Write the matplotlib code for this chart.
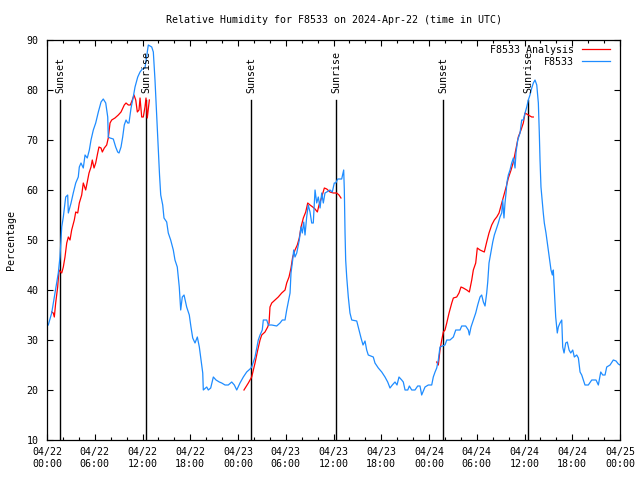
import numpy as np
import matplotlib
matplotlib.use('Agg')
import matplotlib.pyplot as plt


# hours after 2024-04-22 00:00 UTC, relative humidity in %
obs_hours = [0.16, 0.59, 1.01, 1.42, 1.63, 1.85, 2.05, 2.35, 2.60, 2.68, 3.02, 3.30, 3.61, 3.93, 4.06, 4.27,
             4.56, 4.78, 5.06, 5.32, 5.53, 5.82, 6.12, 6.45, 6.79, 7.07, 7.38, 7.63, 7.70, 7.92, 8.33, 8.63,
             8.88, 9.05, 9.30, 9.51, 9.71, 9.93, 10.14, 10.30, 10.56, 10.84, 11.06, 11.40, 11.69, 11.98, 12.31,
             12.73, 13.16, 13.36, 13.57, 13.78, 13.99, 14.14, 14.29, 14.54, 14.70, 15.04, 15.24, 15.54, 15.87,
             16.08, 16.37, 16.62, 16.80, 17.00, 17.22, 17.55, 17.88, 18.09, 18.31, 18.60, 18.89, 19.14, 19.35,
             19.57, 19.64, 20.07, 20.27, 20.57, 20.90, 21.24, 21.65, 21.95, 22.37, 22.78, 23.21, 23.54, 23.84,
             24.25, 24.67, 25.09, 25.51, 25.72, 26.14, 26.35, 26.55, 26.77, 27.05, 27.18, 27.61, 27.81, 28.24,
             28.86, 29.28, 29.57, 29.91, 30.12, 30.32, 30.54, 30.66, 30.87, 31.00, 31.16, 31.38, 31.58, 31.70,
             31.92, 32.08, 32.26, 32.42, 32.63, 32.83, 33.05, 33.26, 33.46, 33.68, 33.89, 34.09, 34.31, 34.52,
             34.72, 34.93, 35.15, 35.56, 35.85, 36.10, 36.28, 36.53, 37.03, 37.28, 37.36, 37.45, 37.53, 37.66,
             37.86, 38.07, 38.29, 38.92, 39.21, 39.46, 39.71, 39.96, 40.17, 40.37, 41.00, 41.21, 41.63, 42.06,
             42.47, 42.81, 43.10, 43.39, 43.73, 43.98, 44.23, 44.57, 44.77, 44.99, 45.33, 45.53, 45.83, 46.24,
             46.58, 46.87, 47.08, 47.50, 47.91, 48.34, 48.54, 48.76, 48.97, 49.17, 49.38, 49.67, 50.01, 50.23,
             50.64, 51.06, 51.36, 51.90, 52.11, 52.61, 52.94, 53.07, 53.28, 53.57, 53.87, 54.12, 54.41, 54.62,
             54.83, 55.04, 55.25, 55.38, 55.54, 55.79, 56.01, 56.21, 56.42, 56.71, 56.92, 57.14, 57.26, 57.42,
             57.55, 57.68, 57.80, 57.97, 58.18, 58.39, 58.60, 58.81, 58.94, 59.15, 59.44, 59.65, 59.85, 60.07,
             60.28, 60.48, 60.69, 60.91, 61.11, 61.32, 61.54, 61.74, 61.86, 61.95, 62.07, 62.24, 62.36, 62.49,
             62.70, 62.87, 63.12, 63.33, 63.50, 63.62, 63.75, 63.92, 64.12, 64.25, 64.46, 64.68, 64.80, 64.97,
             65.18, 65.38, 65.60, 65.81, 66.06, 66.26, 66.56, 66.77, 66.98, 67.19, 67.60, 68.02, 68.45, 68.99,
             69.28, 69.58, 69.83, 70.12, 70.33, 70.75, 71.16, 71.50, 71.79, 72.00]
obs_rh = [33, 35.4, 39.4, 43.4, 46.6, 52.6, 54.6, 58.6, 59, 55.4, 57.4, 59.4, 61.4, 62.6, 64.6, 65.4,
          64.4, 67, 66.4, 68, 70, 72, 73.4, 75.6, 77.6, 78.2, 77.4, 74.6, 70.6, 70.4, 70.2, 68.6,
          67.6, 67.4, 68.6, 70.6, 73, 74, 73.4, 73.4, 76.4, 78.6, 80.6, 82.6, 83.6, 84.2, 84.4,
          89, 88.6, 87.6, 82, 75, 68, 63, 59, 57, 54.4, 53.6, 51.4, 50, 48,
          46, 44.6, 40.6, 36, 38.6, 39, 36.6, 35, 32.6, 30.4, 29.4, 30.6, 28.6, 26,
          23.4, 20, 20.6, 20, 20.4, 22.6, 22, 21.6, 21.4, 21, 21, 21.6, 21, 20,
          21.4, 22.6, 23.6, 24.2, 24.6, 26.6, 28.4, 30, 31, 32, 34, 34, 33, 33,
          32.8, 33.4, 34, 34, 36, 37.6, 39.4, 43.4, 46, 48, 46.6, 47.4, 49, 50,
          52.6, 51.4, 53.6, 51, 54.6, 57, 55.6, 53.4, 53.4, 60, 57.4, 58.6, 56.4, 59.4,
          57.4, 59.4, 59.6, 60, 59.6, 61.4, 61.4, 62.2, 62.2, 64, 60, 51.4, 46, 42.6,
          38.6, 35.4, 34, 33.8, 32, 30.4, 29, 29.8, 28, 27, 26.6, 25.4, 24.4, 23.6,
          22.6, 21.6, 20.4, 21, 21.6, 21, 22.6, 22, 21.6, 20, 20, 20.8, 20, 20,
          20.8, 20.8, 19, 20.6, 21, 21, 22.6, 23.6, 24.4, 26, 28.6, 28.8, 29, 30,
          30, 30.6, 32, 32, 32.8, 32.8, 32, 31, 32.6, 34, 35.4, 37, 38.6, 39,
          37.6, 36.8, 39.4, 41.6, 45.4, 47.6, 49.6, 51, 52, 53.4, 54.6, 55.4, 58, 54.4,
          57.4, 59.4, 61.6, 63, 64, 65.4, 66.4, 64.4, 67.6, 70, 71.4, 74, 74, 75.4,
          76.6, 78, 79, 80.4, 81.4, 82, 81, 77.4, 71.4, 66, 60.6, 57.4, 55.4, 53.4,
          51.4, 49.4, 46.6, 44, 43, 44, 40, 34.6, 31.4, 32.6, 33.4, 34, 28.6, 27.4,
          29.4, 29.6, 28, 27.4, 28, 26.6, 27, 26.4, 23.6, 23, 21, 21, 22, 22,
          21, 23.6, 23, 23, 24.6, 25, 26, 25.8, 25.2, 25]

# analysis runs, one per night
ana1_hours = [0.59, 0.79, 0.92, 1.09, 1.34, 1.51, 1.85, 2.05, 2.26, 2.48, 2.68, 2.89, 3.10, 3.43, 3.61, 3.86,
              4.06, 4.36, 4.56, 4.86, 5.06, 5.28, 5.53, 5.69, 5.91, 6.12, 6.37, 6.53, 6.79, 6.95, 7.20, 7.50,
              7.70, 7.92, 8.13, 8.54, 8.96, 9.30, 9.71, 9.93, 10.22, 10.47, 10.72, 10.93, 11.15, 11.35, 11.56,
              11.69, 11.90, 12.10, 12.31, 12.44, 12.60, 12.86]
ana1_rh = [35.6, 35.4, 34.6, 37.4, 40.6, 44, 43.4, 44.6, 46.6, 49.4, 50.6, 50, 52, 54, 55.6, 55.4,
           57.4, 59, 61.4, 60, 61.6, 63.4, 64.6, 66, 64.4, 65.4, 67.4, 68.6, 68.4, 67.6, 68.4, 69,
           70.4, 73.4, 74, 74.4, 75, 75.6, 77, 77.4, 77, 77, 78, 79, 78, 75.6, 76,
           78.4, 74.6, 74.6, 76.6, 78.4, 74.4, 78]
ana2_hours = [24.75, 25.30, 25.72, 26.14, 26.48, 26.77, 26.98, 27.39, 27.73, 27.90, 28.02, 28.24, 28.65, 29.06,
              29.49, 29.91, 30.12, 30.41, 30.66, 30.87, 31.16, 31.45, 31.70, 31.92, 32.21, 32.51, 32.76, 33.05,
              33.39, 33.68, 33.97, 34.18, 34.52, 34.85, 35.15, 35.56, 35.98, 36.40, 36.69, 36.94]
ana2_rh = [20, 21.4, 22.6, 25.4, 28, 30, 31, 31.6, 32.6, 33.4, 36.6, 37.4, 38, 38.6,
           39.4, 40, 41.4, 42.6, 44.4, 46.6, 48, 49, 50.4, 52.6, 54.4, 55.6, 57.4, 57,
           56.6, 56.2, 55.6, 57, 58.6, 60.4, 60.2, 59.6, 59.4, 59.4, 59, 58.4]
ana3_hours = [48.97, 49.17, 49.38, 49.60, 49.80, 50.01, 50.23, 50.52, 50.86, 51.06, 51.48, 51.77, 52.02, 52.31,
              52.74, 53.07, 53.37, 53.57, 53.87, 54.07, 54.41, 54.95, 55.25, 55.54, 55.88, 56.21, 56.51, 56.80,
              57.14, 57.42, 57.76, 57.97, 58.31, 58.60, 58.90, 59.22, 59.56, 59.85, 60.07, 60.48, 60.91, 61.11]
ana3_rh = [25.6, 25, 28, 30, 31.6, 32, 33.4, 35.4, 37.4, 38.4, 38.6, 39.4, 40.6, 40.4,
           40, 39.6, 42, 44, 45.4, 48.4, 48, 47.6, 49.6, 51.4, 53, 54, 54.6, 55.4,
           57.4, 59, 61, 62.4, 64, 65.6, 68, 70.6, 72, 73.4, 75.4, 75, 74.6, 74.6]

sunset_hours = [1.63, 25.63, 49.76]
sunrise_hours = [12.44, 36.32, 60.44]
sun_line_top = 78

tick_hours = list(range(0, 73, 6))
tick_labels = ['04/22\n00:00', '04/22\n06:00', '04/22\n12:00', '04/22\n18:00',
               '04/23\n00:00', '04/23\n06:00', '04/23\n12:00', '04/23\n18:00',
               '04/24\n00:00', '04/24\n06:00', '04/24\n12:00', '04/24\n18:00',
               '04/25\n00:00']

RED = '#ff0000'
BLUE = '#1e8cff'

plt.rcParams['font.family'] = 'DejaVu Sans Mono'
plt.rcParams['font.size'] = 7.2

fig = plt.figure(figsize=(6.4, 4.8), dpi=100)
ax = fig.add_axes([47 / 640, 40 / 480, 573 / 640, 400 / 480])

for h in sunset_hours:
    ax.plot([h, h], [10, sun_line_top], color='black', lw=1.0)
    ax.text(h, 79.3, 'Sunset', rotation=90, ha='center', va='bottom')
for h in sunrise_hours:
    ax.plot([h, h], [10, sun_line_top], color='black', lw=1.0)
    ax.text(h, 79.3, 'Sunrise', rotation=90, ha='center', va='bottom')

ax.plot(ana1_hours, ana1_rh, color=RED, lw=0.9)
ax.plot(ana2_hours, ana2_rh, color=RED, lw=0.9)
ax.plot(ana3_hours, ana3_rh, color=RED, lw=0.9)
ax.plot(obs_hours, obs_rh, color=BLUE, lw=0.9)

ax.set_xlim(0, 72)
ax.set_ylim(10, 90)
ax.set_xticks(tick_hours)
ax.set_xticklabels(tick_labels)
ax.set_xticks(np.arange(0, 73, 2), minor=True)
ax.set_yticks(range(10, 91, 10))
ax.tick_params(which='both', direction='in', top=True, right=True, width=0.8)
ax.tick_params(which='major', length=4.5, pad=5)
ax.tick_params(which='minor', length=2.5)
ax.tick_params(axis='y', pad=6)
for s in ax.spines.values():
    s.set_linewidth(0.9)

ax.set_ylabel('Percentage', labelpad=8)
fig.text(333.5 / 640, 1 - 20 / 480, 'Relative Humidity for F8533 on 2024-Apr-22 (time in UTC)',
         ha='center', va='center')

# gnuplot style key, text right aligned before the sample line
fig.text(574 / 640, 1 - 50 / 480, 'F8533 Analysis', ha='right', va='center')
fig.text(574 / 640, 1 - 62 / 480, 'F8533', ha='right', va='center')
fig.add_artist(plt.Line2D([582 / 640, 610 / 640], [1 - 49 / 480] * 2, color=RED, lw=0.9))
fig.add_artist(plt.Line2D([582 / 640, 610 / 640], [1 - 61 / 480] * 2, color=BLUE, lw=0.9))

fig.savefig('out.png', dpi=100)
